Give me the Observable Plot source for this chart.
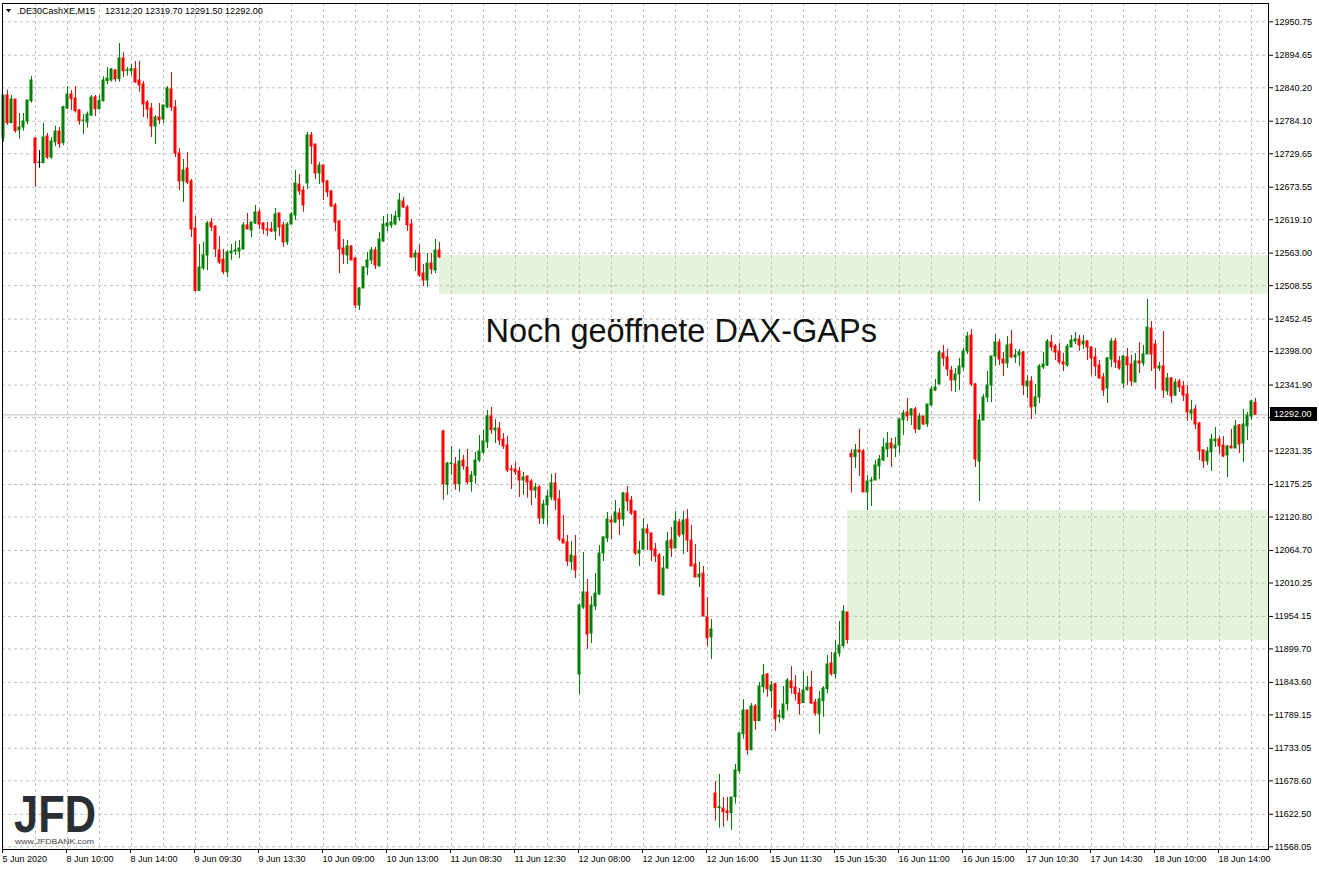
<!DOCTYPE html>
<html><head><meta charset="utf-8">
<script src="https://cdn.jsdelivr.net/npm/d3@7"></script>
<script src="https://cdn.jsdelivr.net/npm/@observablehq/plot@0.6"></script>
<style>
html,body{margin:0;padding:0;background:#fff;}
#chart{width:1319px;height:870px;}
</style></head><body><div id="chart"></div>
<script>
const symbolName = ".DE30CashXE,M15";
const lastOHLC = [12312.20, 12319.70, 12291.50, 12292.00];

const opens = [
12755.7,12827.2,12780.9,12820.5,12768.6,12773.6,12783.7,12817.7,12755.2,12714.4,
12713.8,12758.5,12723.3,12749.0,12766.9,12747.3,12805.4,12828.9,12822.2,12802.1,
12784.8,12782.0,12793.7,12823.9,12804.3,12817.7,12851.3,12852.4,12869.1,12854.6,
12889.2,12868.6,12868.0,12871.4,12852.4,12845.7,12815.5,12805.4,12775.3,12790.4,
12787.0,12807.1,12837.3,12807.1,12730.0,12683.1,12704.9,12683.1,12604.3,12499.8,
12537.3,12559.1,12614.4,12607.7,12567.4,12552.0,12531.0,12563.0,12565.8,12565.8,
12569.1,12609.4,12601.0,12612.7,12631.2,12612.7,12602.7,12602.7,12599.3,12629.5,
12609.4,12580.9,12611.0,12626.1,12678.1,12668.0,12679.8,12760.2,12745.1,12696.5,
12709.9,12683.1,12666.4,12642.9,12616.1,12570.8,12559.1,12574.2,12554.0,12475.3,
12503.8,12539.0,12550.7,12567.5,12540.6,12582.5,12607.7,12609.4,12611.0,12622.8,
12649.6,12639.5,12611.0,12555.7,12562.4,12528.9,12517.2,12545.7,12533.9,12567.5,
12264.1,12174.2,12209.4,12208.8,12175.8,12215.5,12203.8,12179.2,12190.4,12215.5,
12228.9,12245.7,12289.3,12265.8,12269.1,12250.7,12240.6,12200.4,12200.4,12197.1,
12182.0,12188.7,12180.3,12165.2,12170.3,12118.3,12140.1,12153.5,12177.0,12150.2,
12083.1,12078.1,12045.1,12054.6,11856.8,11969.1,11994.3,11925.6,11970.8,11991.0,
12059.6,12084.8,12114.9,12111.6,12126.7,12116.6,12160.2,12148.5,12130.0,12059.6,
12066.4,12099.9,12093.2,12066.4,12056.3,11989.3,12034.5,12081.4,12068.0,12111.6,
12091.5,12116.6,12081.4,12041.2,12019.4,12026.1,11952.4,11918.9,11657.4,11632.8,
11632.2,11627.2,11624.4,11651.2,11694.8,11756.8,11796.5,11730.0,11803.2,11778.6,
11835.6,11856.8,11828.9,11840.6,11785.3,11783.6,11807.1,11845.1,11835.0,11825.0,
11808.8,11830.6,11835.0,11809.9,11790.3,11812.2,11832.2,11875.3,11857.4,11892.0,
11904.3,11960.8,12226.7,12221.1,12232.3,12230.6,12161.9,12180.3,12182.0,12205.5,
12215.5,12234.0,12244.0,12235.6,12240.6,12282.5,12296.0,12291.0,12301.0,12267.5,
12289.2,12275.9,12307.7,12332.8,12342.9,12394.9,12388.2,12366.4,12349.6,12359.7,
12371.4,12398.2,12425.0,12342.9,12213.8,12282.5,12321.1,12341.2,12389.8,12413.3,
12384.8,12378.1,12409.9,12388.2,12391.5,12396.5,12339.5,12347.9,12306.0,12321.1,
12371.4,12374.7,12413.3,12406.6,12398.2,12379.8,12374.7,12404.9,12415.0,12418.3,
12409.9,12415.0,12404.9,12388.2,12374.7,12354.6,12336.2,12384.8,12415.0,12381.5,
12344.6,12388.2,12376.4,12346.2,12381.5,12378.1,12393.2,12436.8,12409.9,12369.7,
12373.1,12331.2,12353.0,12324.4,12347.9,12339.5,12326.1,12294.3,12301.0,12277.5,
12232.3,12213.8,12229.0,12247.4,12250.7,12240.6,12223.9,12239.0,12235.6,12274.2,
12244.0,12272.5,12289.2,12312.2];

const highs = [
12827.2,12835.6,12827.2,12820.5,12797.1,12797.1,12818.9,12859.1,12755.2,12735.0,
12780.9,12763.5,12756.8,12775.8,12773.6,12809.4,12842.3,12835.6,12842.3,12803.8,
12795.4,12799.3,12827.2,12827.2,12827.2,12858.5,12874.2,12872.5,12870.8,12914.4,
12899.3,12874.2,12879.2,12884.2,12884.2,12850.7,12818.9,12813.8,12793.7,12813.8,
12810.5,12842.3,12865.8,12818.9,12738.4,12720.0,12731.7,12686.4,12624.4,12577.5,
12580.8,12616.0,12621.1,12607.7,12590.9,12569.0,12567.0,12577.5,12582.5,12584.2,
12614.4,12629.5,12614.4,12642.9,12636.2,12614.4,12614.4,12614.4,12637.9,12629.5,
12614.4,12614.4,12631.2,12701.6,12694.9,12674.7,12765.2,12765.2,12745.1,12714.9,
12709.9,12684.8,12668.0,12646.2,12616.1,12585.9,12584.2,12575.8,12555.7,12505.5,
12540.6,12564.1,12572.5,12572.5,12597.6,12624.4,12627.8,12627.8,12632.8,12663.0,
12656.3,12642.9,12619.4,12567.5,12577.5,12544.0,12562.4,12562.4,12585.9,12580.9,
12266.3,12212.2,12239.0,12220.5,12233.9,12223.9,12233.9,12197.1,12228.9,12257.4,
12265.8,12299.3,12304.3,12284.2,12279.2,12260.8,12255.7,12207.1,12212.2,12203.8,
12195.4,12188.7,12183.7,12177.0,12173.6,12148.5,12165.2,12192.1,12193.8,12165.2,
12123.4,12089.8,12079.8,12089.8,11974.2,12061.3,12016.1,11987.6,12026.1,12073.0,
12088.1,12128.3,12121.6,12148.5,12135.1,12161.9,12172.0,12155.2,12130.0,12079.8,
12118.3,12108.2,12093.2,12076.4,12059.6,12054.6,12094.9,12103.2,12130.0,12116.6,
12130.0,12133.4,12107.0,12074.7,12044.6,12037.9,11985.9,11949.1,11677.5,11689.2,
11650.7,11650.7,11650.7,11706.0,11759.6,11815.0,11796.5,11808.2,11806.6,11843.4,
11873.6,11858.5,11845.1,11842.3,11796.5,11836.7,11850.1,11870.2,11855.2,11833.4,
11861.9,11853.5,11861.9,11815.0,11828.3,11836.7,11888.7,11893.7,11913.8,11945.6,
11972.5,11960.8,12234.0,12242.3,12267.5,12234.0,12190.4,12187.0,12215.5,12223.9,
12252.4,12262.4,12252.4,12254.1,12285.9,12299.3,12319.4,12302.7,12304.3,12294.3,
12289.2,12309.4,12339.5,12351.3,12399.9,12408.3,12401.6,12373.1,12369.7,12386.5,
12403.2,12430.0,12435.1,12344.6,12292.6,12326.1,12364.7,12389.8,12426.7,12418.3,
12396.5,12423.3,12433.4,12401.6,12401.6,12398.2,12358.0,12356.3,12342.9,12376.4,
12396.5,12418.3,12425.0,12410.0,12411.6,12394.9,12409.9,12425.0,12430.0,12425.0,
12425.0,12416.6,12404.9,12403.2,12383.1,12361.3,12388.2,12420.0,12420.0,12389.8,
12391.5,12403.2,12391.5,12394.9,12413.3,12408.3,12485.4,12448.5,12416.6,12379.8,
12431.7,12361.3,12354.6,12351.3,12351.3,12347.9,12341.2,12316.1,12307.7,12279.2,
12234.0,12237.3,12259.1,12270.8,12255.7,12255.7,12240.6,12267.5,12282.6,12275.9,
12301.0,12296.0,12316.1,12319.7];

const lows = [
12749.0,12777.0,12780.9,12764.1,12754.0,12767.5,12778.1,12814.4,12673.6,12705.4,
12713.8,12720.0,12720.0,12741.8,12739.0,12743.4,12803.8,12802.1,12797.6,12777.5,
12761.9,12772.5,12792.0,12792.0,12802.7,12816.1,12845.7,12849.6,12849.6,12849.6,
12857.4,12859.6,12859.6,12847.9,12832.8,12790.4,12787.6,12756.8,12745.1,12778.6,
12780.3,12805.4,12800.4,12723.3,12668.0,12647.9,12678.1,12589.2,12497.6,12498.7,
12533.9,12533.9,12599.3,12555.7,12544.0,12527.0,12522.0,12550.7,12559.1,12554.0,
12569.1,12602.7,12589.3,12611.0,12602.7,12594.3,12590.9,12597.6,12584.2,12590.9,
12572.5,12575.8,12611.0,12617.8,12659.7,12631.2,12669.7,12711.6,12686.4,12678.1,
12651.2,12656.3,12639.5,12599.3,12528.9,12544.0,12544.0,12550.7,12470.2,12466.9,
12503.8,12525.5,12544.0,12535.6,12540.6,12580.9,12599.3,12604.3,12609.4,12616.1,
12637.9,12599.3,12554.0,12532.3,12522.2,12507.1,12505.5,12527.2,12528.9,12554.0,
12149.0,12157.4,12190.4,12165.8,12162.4,12199.3,12174.2,12162.4,12175.8,12212.2,
12225.6,12235.6,12259.6,12244.0,12240.6,12233.9,12195.4,12166.9,12190.4,12153.5,
12156.8,12152.4,12140.1,12151.8,12108.2,12108.2,12106.6,12148.5,12131.7,12079.8,
12076.4,12037.9,12031.1,12017.7,11823.3,11965.8,11898.8,11908.8,11964.1,11989.3,
12046.2,12078.1,12083.1,12109.9,12089.8,12104.9,12130.0,12123.4,12056.3,12037.9,
12064.7,12064.7,12046.2,12044.6,11991.0,11989.3,12032.8,12052.9,12068.0,12086.4,
12058.0,12061.3,12037.9,12019.4,12002.7,11954.0,11903.8,11882.0,11611.0,11599.3,
11601.0,11611.0,11595.9,11639.5,11689.8,11748.4,11721.6,11730.0,11763.5,11778.6,
11825.5,11818.8,11800.4,11761.8,11775.3,11780.3,11795.4,11823.9,11812.2,11788.7,
11808.8,11828.9,11807.1,11787.0,11756.8,11785.3,11824.4,11854.1,11849.0,11885.9,
11901.0,11907.6,12160.8,12202.1,12188.7,12161.9,12131.7,12138.4,12182.0,12183.7,
12213.8,12220.5,12203.8,12220.5,12227.2,12257.4,12280.9,12274.2,12260.8,12265.8,
12274.2,12270.8,12306.0,12331.2,12342.9,12373.1,12356.3,12331.2,12329.5,12332.8,
12364.7,12393.2,12339.5,12203.8,12146.8,12282.5,12312.7,12312.7,12373.1,12374.7,
12356.3,12369.7,12386.5,12378.1,12373.1,12324.4,12319.4,12284.2,12292.6,12311.0,
12368.0,12373.1,12398.2,12383.1,12376.4,12364.7,12371.4,12404.9,12409.9,12398.2,
12401.6,12383.1,12358.0,12356.3,12351.3,12322.8,12311.1,12371.4,12369.7,12366.4,
12336.2,12341.2,12339.5,12346.2,12361.3,12373.1,12393.2,12364.7,12334.5,12364.7,
12319.4,12324.4,12311.1,12322.8,12329.5,12314.4,12280.9,12282.6,12267.5,12215.5,
12202.1,12207.1,12197.1,12237.3,12225.6,12220.5,12187.0,12235.6,12235.6,12227.2,
12212.2,12249.0,12282.6,12291.5];

const closes = [
12827.2,12780.9,12820.5,12767.5,12773.6,12783.7,12818.9,12852.4,12713.8,12714.4,
12756.8,12723.3,12750.1,12766.9,12745.7,12807.7,12828.9,12821.1,12801.0,12784.2,
12785.3,12795.4,12823.9,12804.3,12818.3,12852.4,12855.7,12870.8,12854.6,12889.2,
12868.0,12869.7,12871.4,12849.0,12844.0,12812.1,12803.8,12775.3,12790.4,12785.9,
12810.5,12839.0,12807.1,12730.0,12683.1,12701.5,12681.4,12602.6,12499.8,12538.9,
12559.1,12612.7,12606.0,12569.1,12547.3,12531.0,12564.0,12565.8,12567.5,12570.8,
12609.4,12602.7,12614.4,12631.2,12611.0,12602.7,12601.0,12599.3,12627.8,12606.0,
12580.9,12611.0,12627.8,12679.8,12666.4,12642.9,12760.2,12741.8,12696.5,12709.9,
12681.4,12664.7,12641.2,12614.4,12569.1,12560.8,12574.2,12550.7,12475.3,12503.8,
12539.0,12550.7,12567.5,12542.3,12585.9,12611.0,12612.7,12614.4,12624.4,12651.2,
12639.5,12609.4,12555.7,12562.4,12525.5,12517.2,12545.7,12535.6,12567.5,12555.7,
12175.8,12210.5,12210.5,12175.8,12213.8,12205.5,12178.6,12190.4,12215.5,12230.6,
12247.4,12289.3,12266.3,12269.1,12249.0,12239.0,12198.8,12198.8,12195.4,12182.0,
12187.0,12178.6,12165.2,12170.3,12118.3,12141.8,12155.2,12177.0,12148.5,12083.1,
12076.4,12046.2,12056.3,12031.1,11972.5,11994.3,11923.9,11972.5,11992.6,12059.6,
12086.4,12116.6,12111.6,12128.3,12116.6,12160.2,12146.8,12126.7,12059.6,12064.7,
12099.9,12093.2,12064.7,12054.6,11991.0,12034.5,12079.8,12068.0,12113.3,12089.8,
12114.9,12081.4,12037.9,12019.4,12024.4,11954.0,11917.2,11932.3,11632.8,11634.5,
11626.1,11624.4,11650.7,11695.9,11757.9,11796.5,11730.0,11803.2,11778.6,11836.7,
11855.2,11832.2,11838.4,11782.0,11788.1,11806.6,11846.8,11833.9,11823.9,11807.1,
11830.0,11835.0,11808.2,11791.5,11815.0,11833.4,11873.6,11857.4,11892.0,11905.4,
11962.4,11914.4,12221.1,12232.3,12228.9,12161.9,12180.3,12182.0,12207.1,12217.2,
12237.3,12244.0,12235.6,12240.6,12284.2,12294.3,12289.2,12301.0,12267.5,12289.2,
12275.9,12309.4,12334.5,12337.9,12396.5,12386.5,12368.0,12349.6,12359.7,12373.1,
12398.2,12423.3,12342.9,12217.2,12282.5,12321.1,12341.2,12389.8,12413.3,12384.8,
12378.1,12408.3,12388.2,12391.5,12396.5,12341.2,12347.9,12304.3,12321.1,12373.1,
12376.4,12414.9,12404.9,12396.5,12379.8,12376.4,12406.6,12416.6,12418.3,12408.3,
12415.0,12404.9,12386.5,12373.1,12353.0,12332.8,12386.5,12415.0,12379.8,12369.7,
12389.8,12374.7,12347.9,12381.5,12378.1,12393.2,12438.4,12393.2,12369.7,12373.1,
12332.8,12353.0,12322.8,12346.2,12337.9,12324.4,12296.0,12299.3,12275.9,12230.6,
12213.8,12230.6,12250.7,12250.7,12239.0,12222.2,12239.0,12235.6,12272.5,12242.3,
12275.9,12291.0,12314.4,12292.0];

const xTickBars = [0,16,32,48,64,80,96,112,128,144,160,176,192,208,224,240,256,272,288,304];
const xTickLabels = ["5 Jun 2020","8 Jun 10:00","8 Jun 14:00","9 Jun 09:30","9 Jun 13:30",
  "10 Jun 09:00","10 Jun 13:00","11 Jun 08:30","11 Jun 12:30","12 Jun 08:00","12 Jun 12:00",
  "12 Jun 16:00","15 Jun 11:30","15 Jun 15:30","16 Jun 11:00","16 Jun 15:00","17 Jun 10:30",
  "17 Jun 14:30","18 Jun 10:00","18 Jun 14:00"];
const gridBars = d3.range(8, 313, 8);
const yTicks = [12950.75,12894.65,12840.20,12784.10,12729.65,12673.55,12619.10,12563.00,
  12508.55,12452.45,12398.00,12341.90,12287.45,12231.35,12175.25,12120.80,12064.70,12010.25,
  11954.15,11899.70,11843.60,11789.15,11733.05,11678.60,11622.50,11568.05];
const hiddenTick = 12287.45; // label covered by the current-price tag

const gapStartBars = [109, 211];
const gapLows = [12494, 11914];
const gapHighs = [12559, 12132];
const annotation = [{bar: 120.5, price: 12432, label: "Noch geöffnete DAX-GAPs"}];

const bars = opens.map((open, i) => ({i, open, high: highs[i], low: lows[i], close: closes[i]}));
const gaps = gapStartBars.map((s, k) => ({start: s, low: gapLows[k], high: gapHighs[k]}));
const X_DOMAIN = [-0.75, 316.25];
const candleColor = d => d.close > d.open ? "#008000" : d.close < d.open ? "#ff0000" : "#000000";
const FONT = "'Liberation Sans', Arial, sans-serif";

const priceTag = (index, scales, values, dims) => {
  const y = scales.y(lastOHLC[3]);
  const x0 = dims.width - dims.marginRight;
  const g = d3.create("svg:g").attr("text-anchor", "start");
  g.append("rect").attr("x", x0 + 2).attr("y", Math.round(y) - 7).attr("width", 47).attr("height", 14).attr("fill", "#000");
  g.append("text").attr("x", x0 + 6).attr("y", y).attr("dy", "0.35em").attr("fill", "#fff")
    .attr("font-size", 9).attr("font-family", FONT).text(lastOHLC[3].toFixed(2));
  return g.node();
};

const logo = (index, scales, values, dims) => {
  const x0 = dims.marginLeft + 12;
  const yb = dims.height - dims.marginBottom;
  const g = d3.create("svg:g").attr("text-anchor", "start");
  g.append("text").attr("x", x0).attr("y", yb - 17).attr("font-family", FONT).attr("font-weight", 900)
    .attr("font-size", 51).attr("fill", "#2b2f33").attr("textLength", 82).attr("lengthAdjust", "spacingAndGlyphs").text("JFD");
  g.append("text").attr("x", x0 + 1).attr("y", yb - 5).attr("font-family", FONT)
    .attr("font-size", 7.5).attr("fill", "#444").attr("textLength", 79).attr("lengthAdjust", "spacingAndGlyphs").text("www.JFDBANK.com");
  return g.node();
};

const header = (index, scales, values, dims) => {
  const x0 = dims.marginLeft, y0 = dims.marginTop;
  const g = d3.create("svg:g").attr("text-anchor", "start").attr("font-family", FONT).attr("font-size", 9).attr("fill", "#000");
  g.append("path").attr("d", `M${x0 + 4},${y0 + 6}h5l-2.5,3.5z`).attr("fill", "#000");
  g.append("text").attr("x", x0 + 15).attr("y", y0 + 8).attr("dy", "0.35em").text(symbolName);
  g.append("text").attr("x", x0 + 103).attr("y", y0 + 8).attr("dy", "0.35em").text(lastOHLC.map(v => v.toFixed(2)).join(" "));
  return g.node();
};

const chart = Plot.plot({
  width: 1319, height: 870,
  marginLeft: 2, marginRight: 51, marginTop: 3, marginBottom: 21,
  x: {domain: X_DOMAIN, range: [0, 1268], axis: null},
  y: {domain: [11568.05, 12950.75], range: [846.3, 21.3], axis: null},
  style: {fontFamily: FONT, fontSize: "9px", color: "#000", background: "#fff", overflow: "visible"},
  marks: [
    Plot.rect(gaps, {x1: "start", x2: () => X_DOMAIN[1], y1: "low", y2: "high", fill: "#e6f3dc"}),
    Plot.ruleX(gridBars, {x: d => d, stroke: "#c0c0c0", strokeDasharray: "3,3"}),
    Plot.ruleY(yTicks, {y: d => d, stroke: "#c0c0c0", strokeDasharray: "3,3"}),
    Plot.ruleY([lastOHLC[3]], {y: d => d, stroke: "#c0c0c0"}),
    Plot.ruleX(bars, {x: "i", y1: "low", y2: "high", stroke: candleColor}),
    Plot.rect(bars, {x1: d => d.i - 0.375, x2: d => d.i + 0.375, y1: "open", y2: "close", fill: candleColor, insetTop: -0.5, insetBottom: -0.5}),
    Plot.text(annotation, {x: "bar", y: "price", text: "label", textAnchor: "start", fontSize: 32.5, fill: "#111", fontFamily: FONT}),
    header,
    logo,
    Plot.axisY(yTicks, {anchor: "right", tickSize: 4, tickPadding: 2, tickFormat: d => d === hiddenTick ? "" : d.toFixed(2), fontSize: 9}),
    Plot.axisX(xTickBars, {anchor: "bottom", tickSize: 4, tickPadding: 2, textAnchor: "start", dx: -1,
      tickFormat: d => xTickLabels[xTickBars.indexOf(d)], fontSize: 9}),
    Plot.frame({stroke: "#000"}),
    priceTag
  ]
});
document.getElementById("chart").appendChild(chart);
</script></body></html>
